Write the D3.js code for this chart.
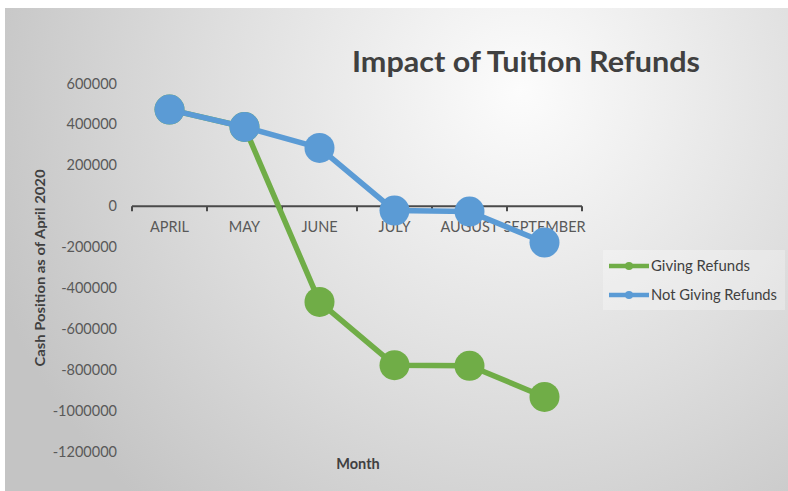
<!DOCTYPE html>
<html><head><meta charset="utf-8">
<script src="https://cdn.jsdelivr.net/npm/d3@7"></script>
<style>
html,body{margin:0;padding:0;background:#fff;}
svg{display:block;}
text{font-family:Lato,"Open Sans",sans-serif;}
</style></head>
<body>
<svg id="c" width="788" height="491"></svg>
<script>
const categories = ["APRIL","MAY","JUNE","JULY","AUGUST","SEPTEMBER"];
const givingRefunds = [472000, 387000, -467000, -776000, -779000, -931000];
const notGivingRefunds = [472000, 387000, 285000, -21000, -26000, -177000];
const yTicks = [600000,400000,200000,0,-200000,-400000,-600000,-800000,-1000000,-1200000];
const seriesNames = ["Giving Refunds","Not Giving Refunds"];

const svg = d3.select("#c");
const defs = svg.append("defs");
const g = defs.append("radialGradient").attr("id","bg")
  .attr("gradientUnits","userSpaceOnUse")
  .attr("cx",520).attr("cy",90).attr("r",560);
g.append("stop").attr("offset","0%").attr("stop-color","#fcfcfc");
g.append("stop").attr("offset","55%").attr("stop-color","#dedede");
g.append("stop").attr("offset","100%").attr("stop-color","#c4c4c4");

svg.append("rect").attr("x",5).attr("y",8).attr("width",783).attr("height",483).attr("fill","url(#bg)");

const x = d3.scaleBand().domain(categories).range([132,582]).padding(0);
const y = d3.scaleLinear().domain([-1200000,600000]).range([452,83.4]);
const cx = c => x(c) + x.bandwidth()/2;

// Y axis labels
const yAxis = d3.axisLeft(y).tickValues(yTicks).tickSize(0).tickPadding(0).tickFormat(d => String(d));
const ya = svg.append("g").attr("transform","translate(117,0)").call(yAxis);
ya.select(".domain").remove();
ya.selectAll("text").attr("fill","#595959").style("font-size","14.5px").style("font-family","Lato, 'Open Sans', sans-serif");

// X axis at zero
const xAxis = d3.axisBottom(x).tickSize(0).tickPadding(15);
const xa = svg.append("g").attr("transform",`translate(0,${y(0)})`).call(xAxis);
xa.select(".domain").attr("stroke","#4a4a4a").attr("stroke-width",2).attr("d","M132,0H582");
xa.selectAll("text").attr("fill","#595959").style("font-size","14.5px").style("font-family","Lato, 'Open Sans', sans-serif");
const bounds = categories.map(c => x(c)).concat([x(categories[categories.length-1]) + x.bandwidth()]);
xa.selectAll(".bt").data(bounds).enter().append("line")
  .attr("x1",d=>d).attr("x2",d=>d).attr("y1",0).attr("y2",5)
  .attr("stroke","#4a4a4a").attr("stroke-width",2);

const colors = ["#70AD47","#5B9BD5"];
const series = [givingRefunds, notGivingRefunds];
const line = d3.line().x((d,i)=>cx(categories[i])).y(d=>y(d));
series.forEach((s,k)=>{
  svg.append("path").datum(s).attr("d",line).attr("fill","none")
    .attr("stroke",colors[k]).attr("stroke-width",5.5).attr("stroke-linejoin","round");
  svg.selectAll(".m"+k).data(s).enter().append("circle")
    .attr("cx",(d,i)=>cx(categories[i])).attr("cy",d=>y(d)).attr("r",15).attr("fill",colors[k]);
});

// Title
svg.append("text").attr("x",526).attr("y",72).attr("text-anchor","middle")
  .attr("fill","#404040").style("font-size","29px").style("font-weight","bold")
  .attr("textLength",348).attr("lengthAdjust","spacingAndGlyphs")
  .text("Impact of Tuition Refunds");

// Axis titles
svg.append("text").attr("transform","translate(45,268) rotate(-90)").attr("text-anchor","middle")
  .attr("fill","#404040").style("font-size","14px").style("font-weight","bold")
  .attr("textLength",197).attr("lengthAdjust","spacingAndGlyphs")
  .text("Cash  Position as of April 2020");
svg.append("text").attr("x",358).attr("y",469).attr("text-anchor","middle")
  .attr("fill","#404040").style("font-size","14.5px").style("font-weight","bold")
  .text("Month");

// Legend
svg.append("rect").attr("x",603).attr("y",250).attr("width",182).attr("height",60)
  .attr("fill","#ffffff").attr("fill-opacity",0.28);
seriesNames.forEach((n,k)=>{
  const ly = 266 + k*29;
  svg.append("line").attr("x1",609).attr("x2",649).attr("y1",ly).attr("y2",ly)
    .attr("stroke",colors[k]).attr("stroke-width",4.5);
  svg.append("circle").attr("cx",629).attr("cy",ly).attr("r",4).attr("fill",colors[k]);
  svg.append("text").attr("x",651).attr("y",ly+5).attr("fill","#404040")
    .style("font-size","14.5px").attr("textLength",n.length > 15 ? 126 : 99).attr("lengthAdjust","spacingAndGlyphs").text(n);
});
</script>
</body></html>
